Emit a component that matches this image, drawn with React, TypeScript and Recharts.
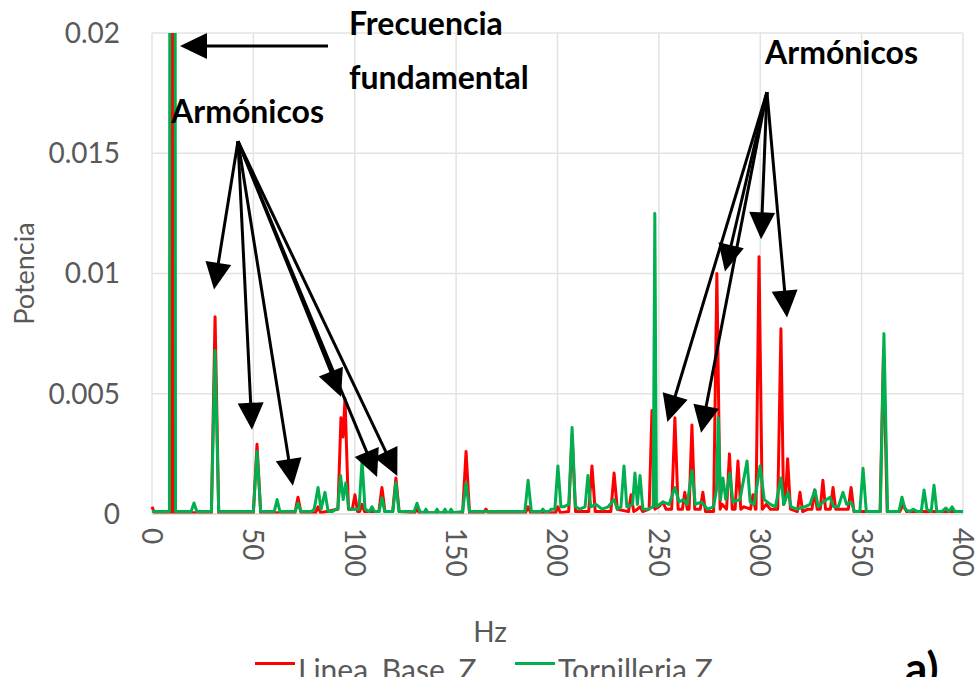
import { LineChart, Line, XAxis, YAxis, CartesianGrid, ReferenceLine, Legend } from "recharts";

// [Hz, potencia]
const lineaBaseZ: [number, number][] = [
    [0, 0.0003], [1.2, 0.00005], [9.5, 0.00005], [10.1, 0.08], [10.7, 0.00005],
    [29.3, 0.00005], [31.1, 0.0082], [32.9, 0.00005],
    [50.0, 0.00005], [51.8, 0.0029], [53.6, 0.00005],
    [70.5, 0.00005], [72.0, 0.0007], [73.5, 0.00005],
    [80.6, 0.00005], [81.9, 0.0003], [83.2, 0.00005],
    [91.7, 0.0002], [93.2, 0.004], [94.2, 0.0032], [95.2, 0.0048], [96.9, 0.0002],
    [98.8, 0.0002], [100.1, 0.0008], [101.4, 0.0001],
    [102.4, 0.0001], [103.6, 0.0004], [104.8, 0.0001],
    [111.9, 0.0001], [113.4, 0.0011], [114.9, 0.0001],
    [118.7, 0.0001], [120.3, 0.0015], [121.9, 0.0001],
    [129.5, 0.00005], [130.7, 0.0002], [131.9, 0.00005],
    [153.2, 0.00005], [154.9, 0.0026], [156.6, 0.00005],
    [163.5, 0.00005], [164.7, 0.0002], [165.9, 0.00005],
    [184.2, 0.00005], [185.5, 0.0003], [186.8, 0.00005],
    [199.0, 0.00005], [200.2, 0.0003], [201.4, 0.00005],
    [205.5, 0.0001], [207.2, 0.0033], [208.9, 0.0001],
    [215.4, 0.0001], [217.0, 0.002], [218.6, 0.0001],
    [226.3, 0.0001], [227.9, 0.0017], [229.5, 0.0002],
    [235.0, 0.0001], [236.3, 0.0008], [237.6, 0.0001],
    [239.4, 0.0002], [240.7, 0.0003], [242.0, 0.0001],
    [245.2, 0.0002], [246.6, 0.0043], [248.0, 0.0002],
    [250.0, 0.0003], [252.0, 0.0005], [253.5, 0.0002],
    [256.3, 0.0002], [257.9, 0.004], [259.5, 0.0002],
    [261.6, 0.0002], [262.8, 0.0009], [264.0, 0.0002],
    [264.9, 0.0002], [266.3, 0.0037], [267.7, 0.0002],
    [270.4, 0.0002], [271.7, 0.0009], [273.0, 0.0001],
    [277.0, 0.0001], [278.6, 0.01], [280.2, 0.0002], [281.2, 0.0004],
    [283.4, 0.0002], [284.8, 0.0025], [286.2, 0.0002],
    [287.6, 0.0002], [289.0, 0.0022], [290.4, 0.0002], [292.0, 0.0003],
    [295.2, 0.0002], [296.4, 0.0008], [297.6, 0.0002],
    [297.9, 0.0002], [299.4, 0.0107], [301.0, 0.0002],
    [303.0, 0.0004], [305.0, 0.0002],
    [308.6, 0.0002], [310.2, 0.0077], [311.5, 0.0004], [312.4, 0.0006], [313.5, 0.0023], [314.9, 0.0002],
    [318.3, 0.0001], [319.6, 0.0009], [320.9, 0.0001],
    [323.5, 0.0002], [325.5, 0.0002], [326.8, 0.001], [328.1, 0.0002],
    [329.6, 0.0002], [330.9, 0.0014], [332.2, 0.0002],
    [334.6, 0.0002], [335.9, 0.0011], [337.2, 0.0002],
    [343.4, 0.0002], [344.8, 0.0011], [346.2, 0.0001],
    [359.1, 0.0001], [360.8, 0.0068], [362.6, 0.0001],
    [368.8, 0.0001], [370.5, 0.0004], [372.2, 0.0001],
    [400, 0.0001],
];

const tornilleriaZ: [number, number][] = [
    [0, 0.0001], [8.6, 0.0001], [9.2, 0.08], [11.0, 0.08], [11.6, 0.0001],
    [19.3, 0.0001], [20.7, 0.00046], [22.1, 0.0001],
    [29.3, 0.0001], [31.1, 0.0068], [32.9, 0.0001],
    [50.0, 0.0001], [51.8, 0.0026], [53.6, 0.0001],
    [60.3, 0.0001], [61.7, 0.0006], [63.1, 0.0001],
    [70.6, 0.0001], [72.0, 0.00045], [73.4, 0.0001],
    [78.5, 0.0001], [80.0, 0.0002], [81.9, 0.0011], [83.4, 0.0002], [85.3, 0.0009], [86.9, 0.0001],
    [89.0, 0.0001], [90.5, 0.0002],
    [91.6, 0.0002], [93.0, 0.0016], [94.3, 0.0006], [95.6, 0.0013], [97.1, 0.0002],
    [102.1, 0.0002], [103.6, 0.0022], [105.1, 0.0002],
    [107.3, 0.0001], [108.5, 0.0003], [109.7, 0.0001],
    [112.0, 0.0001], [113.4, 0.00067], [114.8, 0.0001],
    [118.8, 0.0001], [120.3, 0.0013], [121.8, 0.0001],
    [129.3, 0.0001], [130.7, 0.00045], [132.1, 0.0001],
    [134.1, 0.00005], [135.1, 0.0002], [136.1, 0.00005],
    [139.6, 0.00005], [140.6, 0.0002], [141.6, 0.00005],
    [143.5, 0.00005], [144.5, 0.0002], [145.5, 0.00005],
    [146.5, 0.00005], [147.5, 0.0002], [148.5, 0.00005],
    [153.2, 0.0001], [154.9, 0.0013], [156.6, 0.0001],
    [183.9, 0.0001], [185.5, 0.0014], [187.1, 0.0001],
    [189.0, 0.0001], [191.8, 0.0001], [192.8, 0.0002], [193.8, 0.0001],
    [195.8, 0.0001], [196.8, 0.0002], [197.8, 0.0002],
    [198.7, 0.0002], [200.2, 0.002], [201.7, 0.0003],
    [203.0, 0.0003], [205.6, 0.0004], [207.2, 0.0036], [208.8, 0.0003],
    [211.0, 0.0002], [213.6, 0.0003], [215.0, 0.0016], [216.4, 0.0003],
    [219.0, 0.0004], [222.0, 0.0002], [225.0, 0.0003], [227.9, 0.0006], [229.5, 0.0002],
    [231.3, 0.0003], [232.8, 0.002], [234.2, 0.0003],
    [237.0, 0.0004], [238.2, 0.0017], [239.4, 0.0004], [240.7, 0.0016], [242.1, 0.0002],
    [244.5, 0.0002], [247.2, 0.0003], [248.0, 0.0125], [248.8, 0.0003],
    [252.0, 0.0005], [255.0, 0.0004], [257.9, 0.0011], [260.0, 0.0005], [262.0, 0.0006],
    [264.0, 0.0004], [266.3, 0.0018], [268.0, 0.0004], [271.0, 0.0005], [274.0, 0.0002],
    [277.0, 0.0003], [278.4, 0.001], [279.3, 0.004], [280.4, 0.0006], [281.6, 0.0015],
    [283.0, 0.0006], [285.0, 0.0017], [286.5, 0.0005], [290.0, 0.0006], [293.5, 0.0022],
    [295.0, 0.0005], [297.0, 0.0004], [299.9, 0.002], [302.0, 0.0006], [305.0, 0.0004],
    [307.5, 0.0003], [310.2, 0.0015], [311.6, 0.0004], [313.7, 0.0009], [315.2, 0.0003],
    [318.0, 0.0002], [322.0, 0.0003], [324.5, 0.0004], [327.0, 0.001], [328.6, 0.0003],
    [331.0, 0.0005], [334.4, 0.0007], [336.2, 0.0003], [338.5, 0.0003], [340.8, 0.0009],
    [342.6, 0.0004], [344.8, 0.0005], [346.5, 0.0001],
    [349.1, 0.0001], [350.7, 0.0019], [352.3, 0.0001],
    [359.2, 0.0001], [361.0, 0.0075], [362.8, 0.0001],
    [368.4, 0.0001], [369.9, 0.0007], [371.4, 0.0002], [373.5, 0.0001], [375.5, 0.0002], [377.5, 0.0001],
    [379.4, 0.0001], [380.8, 0.001], [382.2, 0.0002],
    [384.3, 0.0001], [385.7, 0.0012], [387.1, 0.0001],
    [389.5, 0.0001], [391.6, 0.00025], [393.0, 0.0001], [394.6, 0.0003], [396.0, 0.0001],
    [400, 0.0001],
];

const xTicks = [0, 50, 100, 150, 200, 250, 300, 350, 400];
const yTicks = [0, 0.005, 0.01, 0.015, 0.02];

// arrows: [from hz, from potencia, to hz, to potencia]
const fundamentalArrow: [number, number, number, number][] = [[86.8, 0.01946, 13.8, 0.01946]];
const leftOrigin: [number, number] = [42.4, 0.0155];
const leftTips: [number, number][] = [
    [30.6, 0.00933], [49.3, 0.0035], [69.5, 0.00117], [93.2, 0.00488], [111.0, 0.00154], [121.0, 0.00158],
];
const rightOrigin: [number, number] = [303.3, 0.01754];
const rightTips: [number, number][] = [
    [254.2, 0.00383], [270.8, 0.00338], [282.6, 0.01008], [300.4, 0.01142], [313.2, 0.00817],
];

const FONT = "Lato, 'Open Sans', sans-serif";
const GRAY = "#595959";

const toRows = (pts: [number, number][]) => pts.map(([hz, p]) => ({ hz, p }));

const arrows = [
    ...fundamentalArrow,
    ...leftTips.map(([x, y]) => [leftOrigin[0], leftOrigin[1], x, y] as [number, number, number, number]),
    ...rightTips.map(([x, y]) => [rightOrigin[0], rightOrigin[1], x, y] as [number, number, number, number]),
];

function ArrowShape(props: any) {
    const { x1, y1, x2, y2 } = props;
    const dx = x2 - x1;
    const dy = y2 - y1;
    const len = Math.sqrt(dx * dx + dy * dy) || 1;
    const ux = dx / len;
    const uy = dy / len;
    const L = 27;
    const W = 13;
    const bx = x2 - ux * L;
    const by = y2 - uy * L;
    const pts = `${x2},${y2} ${bx - uy * W},${by + ux * W} ${bx + uy * W},${by - ux * W}`;
    return (
        <g>
            <line x1={x1} y1={y1} x2={bx + ux * 2} y2={by + uy * 2} stroke="#000" strokeWidth={3} />
            <polygon points={pts} fill="#000" />
        </g>
    );
}

function XTick(props: any) {
    const { x, y, payload } = props;
    const ty = y + 6;
    return (
        <text x={x} y={ty} transform={`rotate(90, ${x}, ${ty})`} dy="0.36em" textAnchor="start"
            fill={GRAY} fontSize={28} fontFamily={FONT}>
            {payload.value}
        </text>
    );
}

function LegendContent(props: any) {
    const items = props.payload || [];
    return (
        <div style={{ display: "flex", paddingLeft: 255, fontFamily: FONT, fontSize: 30, color: GRAY, lineHeight: 1.2 }}>
            {items.map((it: any, i: number) => (
                <div key={it.value} style={{ display: "flex", alignItems: "flex-start", width: i === 0 ? 260 : "auto" }}>
                    <span style={{ display: "inline-block", width: 40, height: 3, background: it.color, marginTop: 11, marginRight: 3 }} />
                    <span>{it.value}</span>
                </div>
            ))}
        </div>
    );
}

const textStyle: React.CSSProperties = {
    position: "absolute", fontFamily: FONT, fontWeight: 700, fontSize: 32, color: "#000", lineHeight: 1, whiteSpace: "nowrap",
};

export default function App() {
    return (
        <div style={{ position: "absolute", left: 0, top: 0, width: 976, height: 677, overflow: "hidden", background: "#fff" }}>
            <LineChart width={976} height={677} margin={{ top: 33, right: 13, bottom: 0, left: 0 }}>
                <CartesianGrid stroke="#e3e3e3" strokeWidth={1.5} />
                <XAxis
                    type="number" dataKey="hz" domain={[0, 400]} ticks={xTicks} height={163}
                    axisLine={{ stroke: "#d9d9d9" }} tickLine={false} tick={<XTick />} interval={0}
                    label={{ value: "Hz", content: () => (
                        <text x={490} y={642} textAnchor="middle" fill={GRAY} fontSize={28} fontFamily={FONT}>Hz</text>
                    ) }}
                />
                <YAxis
                    type="number" domain={[0, 0.02]} ticks={yTicks} allowDataOverflow width={152}
                    axisLine={false} tickLine={false} tickSize={6} tickMargin={26} interval={0}
                    tick={{ fill: GRAY, fontSize: 28, fontFamily: FONT }}
                    label={{ value: "Potencia", content: (p: any) => {
                        const vb = p.viewBox || { x: 0, y: 33, height: 481 };
                        const cx = vb.x + 24;
                        const cy = vb.y + vb.height / 2;
                        return (
                            <text x={cx} y={cy} transform={`rotate(-90, ${cx}, ${cy})`} textAnchor="middle" dy="0.36em"
                                fill={GRAY} fontSize={27} fontFamily={FONT}>Potencia</text>
                        );
                    } }}
                />
                <Legend verticalAlign="middle" align="center" content={<LegendContent />}
                    wrapperStyle={{ top: 651, left: 0, width: 976 }} />
                <Line data={toRows(lineaBaseZ)} dataKey="p" name="Linea_Base_Z" stroke="#ff0000" strokeWidth={3}
                    strokeLinejoin="round" dot={false} activeDot={false} isAnimationActive={false} type="linear" />
                <Line data={toRows(tornilleriaZ)} dataKey="p" name="Tornilleria Z" stroke="#00b050" strokeWidth={3}
                    strokeLinejoin="round" dot={false} activeDot={false} isAnimationActive={false} type="linear" />
                {arrows.map((a, i) => (
                    <ReferenceLine key={i} segment={[{ x: a[0], y: a[1] }, { x: a[2], y: a[3] }]}
                        ifOverflow="visible" shape={ArrowShape} />
                ))}
            </LineChart>
            <div style={{ ...textStyle, left: 349, top: 7 }}>Frecuencia</div>
            <div style={{ ...textStyle, left: 349, top: 61 }}>fundamental</div>
            <div style={{ ...textStyle, left: 171, top: 95 }}>Armónicos</div>
            <div style={{ ...textStyle, left: 765, top: 36 }}>Armónicos</div>
            <div style={{ ...textStyle, left: 905, top: 645, fontSize: 44 }}>a)</div>
        </div>
    );
}
